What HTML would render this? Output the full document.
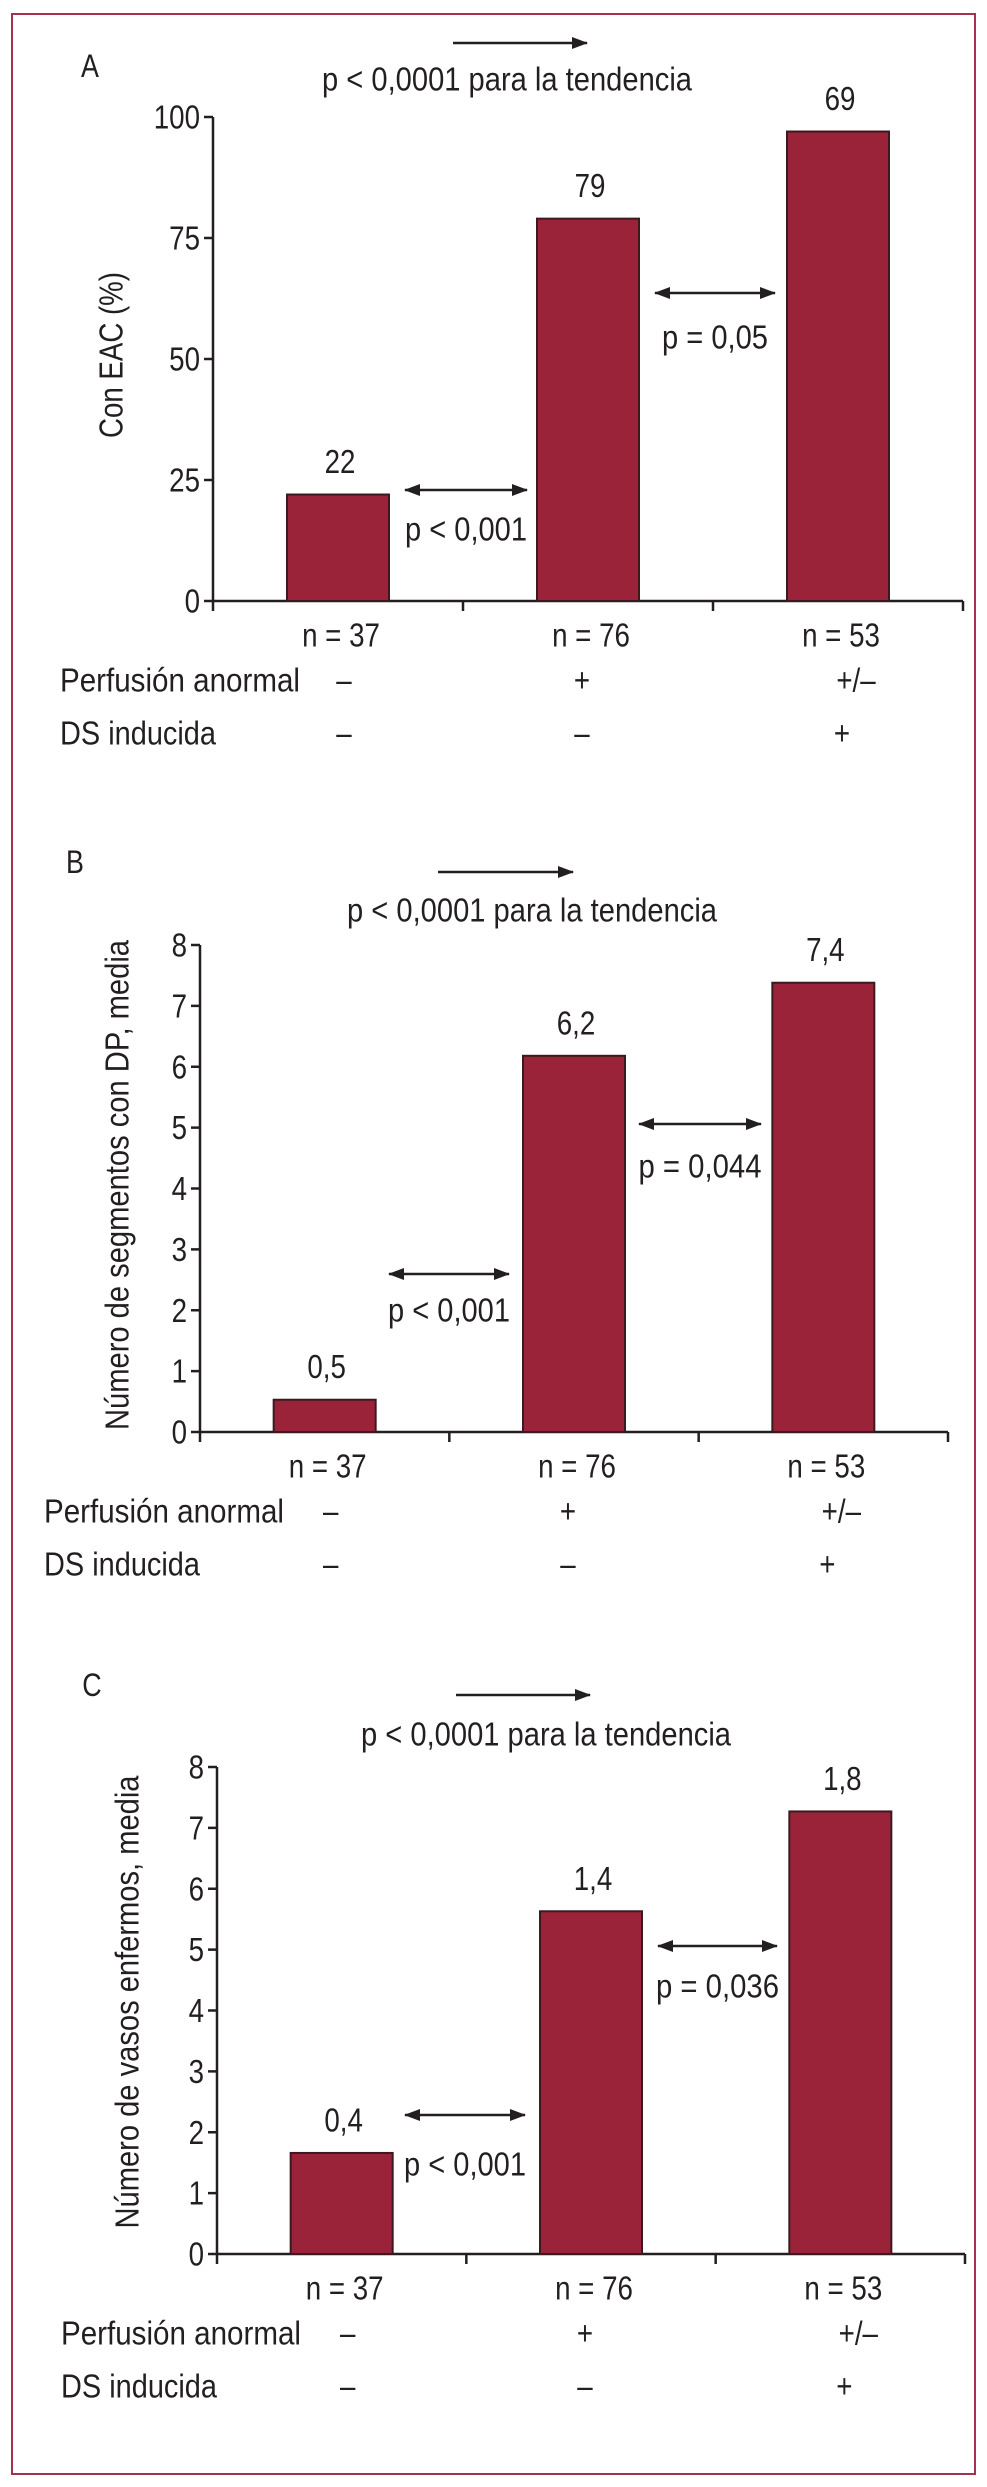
<!DOCTYPE html>
<html><head><meta charset="utf-8">
<style>
html,body{margin:0;padding:0;background:#fff;}
svg{display:block;}
text{font-family:"Liberation Sans",sans-serif;fill:#231f20;}
</style></head>
<body>
<svg id="fig" width="987" height="2487" viewBox="0 0 987 2487" xmlns="http://www.w3.org/2000/svg">
<defs>
<marker id="ah" markerWidth="16" markerHeight="12" refX="15" refY="6" orient="auto-start-reverse" markerUnits="userSpaceOnUse" viewBox="0 0 16 12"><path d="M0,0 L16,6 L0,12 z" fill="#231f20"/></marker>
</defs>
<rect x="12" y="14" width="963" height="2460" fill="none" stroke="#a3324c" stroke-width="2"/>
</svg>
<script>
// Shared categories
const groupN = ["n = 37", "n = 76", "n = 53"];
const perfusion = ["\u2013", "+", "+/\u2013"];
const dsInduced = ["\u2013", "\u2013", "+"];
// Panel A
const valuesA = [22, 79, 97];
const labelsA = ["22", "79", "69"];
const ticksA = [0, 25, 50, 75, 100];
const pvalsA = ["p < 0,001", "p = 0,05"];
// Panel B
const valuesB = [0.53, 6.18, 7.38];
const labelsB = ["0,5", "6,2", "7,4"];
const ticksB = [0, 1, 2, 3, 4, 5, 6, 7, 8];
const pvalsB = ["p < 0,001", "p = 0,044"];
// Panel C
const valuesC = [1.66, 5.63, 7.27];
const labelsC = ["0,4", "1,4", "1,8"];
const ticksC = [0, 1, 2, 3, 4, 5, 6, 7, 8];
const pvalsC = ["p < 0,001", "p = 0,036"];

const NS = "http://www.w3.org/2000/svg";
const svg = document.getElementById("fig");
function mk(tag, attrs, parent) {
  const e = document.createElementNS(NS, tag);
  for (const k in attrs) e.setAttribute(k, attrs[k]);
  (parent || svg).appendChild(e);
  return e;
}
function txt(s, x, y, anchor, size, parent, tl) {
  const t = mk("text", {x: x, y: y, "text-anchor": anchor, "font-size": size, "dominant-baseline": "central"}, parent);
  t.textContent = s;
  if (!tl) {
    const len = t.getComputedTextLength();
    if (len > 0) tl = len * 0.84;
  }
  if (tl) { t.setAttribute("textLength", tl); t.setAttribute("lengthAdjust", "spacingAndGlyphs"); }
  return t;
}

function drawPanel(g, cfg, values, labels, ticks, pvals) {
  const ymax = ticks[ticks.length - 1];
  const yS = v => cfg.y0 - (v / ymax) * (cfg.y0 - cfg.yTop);
  const cw = (cfg.xR - cfg.x0) / values.length;
  const xC = i => cfg.x0 + cw * (i + 0.5);
  const bw = 102;
  const fs = 33;

  let t = txt(cfg.letter, cfg.letterX, cfg.letterY, "middle", 32, g);
  
  

  let a = mk("line", {x1: cfg.trendX1, y1: cfg.trendY, x2: cfg.trendX2, y2: cfg.trendY, stroke: "#231f20", "stroke-width": 2.5, "marker-end": "url(#ah)"}, g);
  
  
  t = txt("p < 0,0001 para la tendencia", cfg.titleX, cfg.titleY, "middle", fs, g, 370);
  
  

  let ax = mk("line", {x1: cfg.x0, y1: yS(ymax), x2: cfg.x0, y2: cfg.y0, stroke: "#231f20", "stroke-width": 2.5}, g);
  
  
  ticks.forEach(v => {
    const tk = mk("line", {x1: cfg.x0 - 9, y1: yS(v), x2: cfg.x0, y2: yS(v), stroke: "#231f20", "stroke-width": 2.5}, g);
    
    
    const tl = txt(String(v), cfg.x0 - 13, yS(v), "end", fs, g);
    
    
  });
  const yl = txt(cfg.ylabel, 0, 0, "middle", fs, g, cfg.ylabelLen);
  yl.setAttribute("transform", "translate(" + cfg.ylabelX + "," + cfg.ylabelY + ") rotate(-90)");
  
  

  ax = mk("line", {x1: cfg.x0, y1: cfg.y0, x2: cfg.xR, y2: cfg.y0, stroke: "#231f20", "stroke-width": 2.5}, g);
  
  
  for (let i = 0; i <= values.length; i++) {
    const xt = cfg.x0 + cw * i;
    const tk = mk("line", {x1: xt, y1: cfg.y0, x2: xt, y2: cfg.y0 + 10, stroke: "#231f20", "stroke-width": 2.5}, g);
    
    
  }

  values.forEach((v, i) => {
    const b = mk("rect", {x: xC(i) - bw / 2, y: yS(v), width: bw, height: cfg.y0 - yS(v), fill: "#9b2339", stroke: "#3a1a1e", "stroke-width": 2}, g);
    
    
    const vl = txt(labels[i], xC(i) + 2, yS(v) - 33, "middle", fs, g);
    
    
    const nl = txt(groupN[i], xC(i) + 3, cfg.y0 + 34, "middle", fs, g);
    
    
  });

  let rl = txt("Perfusión anormal", cfg.rowX, cfg.y0 + 79, "start", fs, g, 240);
  
  
  rl = txt("DS inducida", cfg.rowX, cfg.y0 + 132, "start", fs, g, 156);
  
  
  const px = [xC(0) + 6, xC(1) - 6, xC(2) + 18];
  const dx = [xC(0) + 6, xC(1) - 6, xC(2) + 4];
  perfusion.forEach((s, i) => {
    const m = txt(s, px[i], cfg.y0 + 79, "middle", fs, g);
    
    
  });
  dsInduced.forEach((s, i) => {
    const m = txt(s, dx[i], cfg.y0 + 132, "middle", fs, g);
    
    
  });

  cfg.cmp.forEach((c, i) => {
    const l = mk("line", {x1: c.x1, y1: c.y, x2: c.x2, y2: c.y, stroke: "#231f20", "stroke-width": 2.5, "marker-start": "url(#ah)", "marker-end": "url(#ah)"}, g);
    
    
    const pl = txt(pvals[i], (c.x1 + c.x2) / 2, c.ly, "middle", fs, g, c.len);
    
    
  });
}

const gA = mk("g", {});


drawPanel(gA, {letter: "A", letterX: 90, letterY: 66, trendX1: 453, trendX2: 587, trendY: 43, titleX: 507, titleY: 79,
  x0: 213, xR: 963, y0: 601, yTop: 117, ylabel: "Con EAC (%)", ylabelLen: 166, ylabelX: 111, ylabelY: 355, rowX: 60,
  cmp: [{x1: 405, x2: 527, y: 490, ly: 529, len: 122}, {x1: 655, x2: 775, y: 293, ly: 337, len: 106}]},
  valuesA, labelsA, ticksA, pvalsA);

const gB = mk("g", {});


drawPanel(gB, {letter: "B", letterX: 75, letterY: 862, trendX1: 438, trendX2: 573, trendY: 872, titleX: 532, titleY: 910,
  x0: 200, xR: 948, y0: 1432, yTop: 945, ylabel: "Número de segmentos con DP, media", ylabelLen: 490, ylabelX: 117, ylabelY: 1185, rowX: 44,
  cmp: [{x1: 389, x2: 509, y: 1274, ly: 1310, len: 122}, {x1: 639, x2: 761, y: 1124, ly: 1166, len: 123}]},
  valuesB, labelsB, ticksB, pvalsB);

const gC = mk("g", {});


drawPanel(gC, {letter: "C", letterX: 92, letterY: 1685, trendX1: 456, trendX2: 590, trendY: 1695, titleX: 546, titleY: 1734,
  x0: 217, xR: 965, y0: 2254, yTop: 1767, ylabel: "Número de vasos enfermos, media", ylabelLen: 453, ylabelX: 127, ylabelY: 2002, rowX: 61,
  cmp: [{x1: 405, x2: 525, y: 2115, ly: 2164, len: 122}, {x1: 658, x2: 777, y: 1946, ly: 1986, len: 123}]},
  valuesC, labelsC, ticksC, pvalsC);
</script>
</body></html>
